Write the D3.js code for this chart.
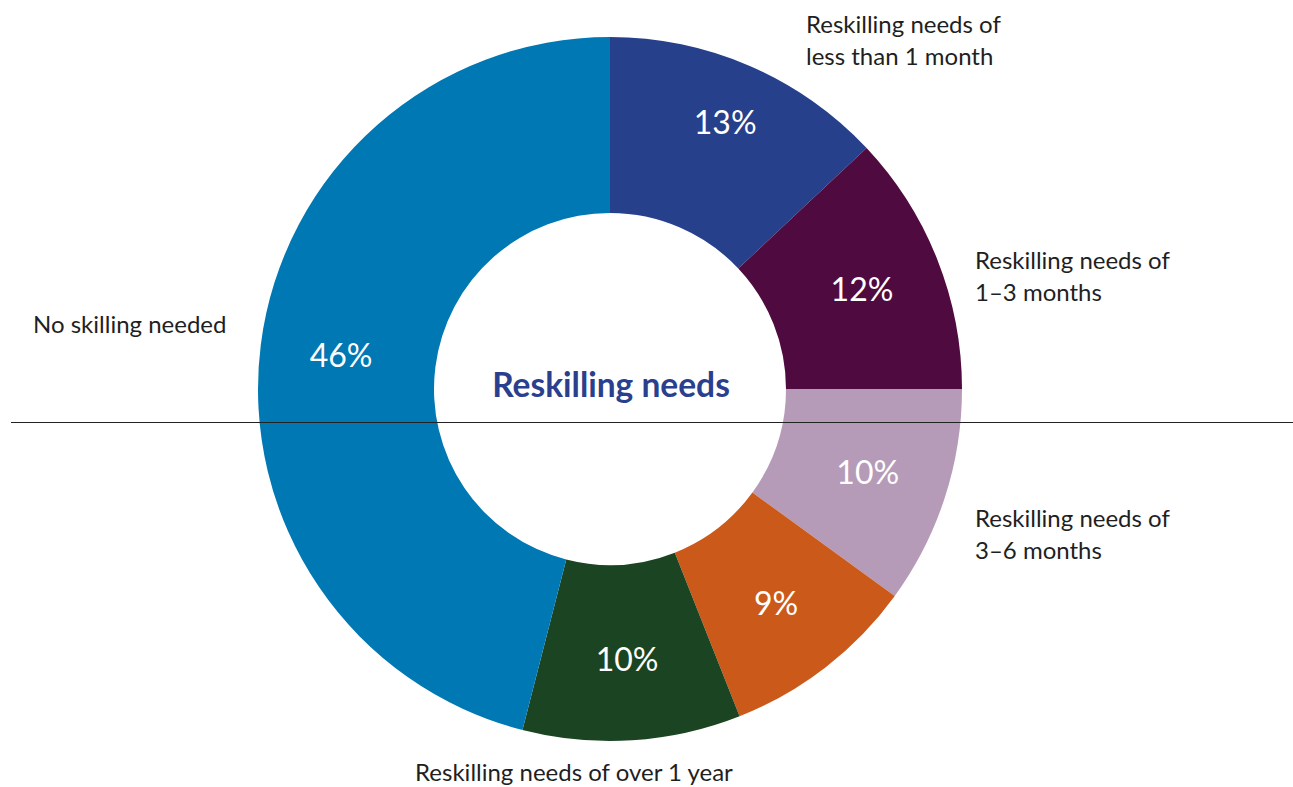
<!DOCTYPE html>
<html>
<head>
<meta charset="utf-8">
<script src="https://cdn.jsdelivr.net/npm/d3@7/dist/d3.min.js"></script>
<style>
  html, body { margin: 0; padding: 0; background: #fff; }
  svg { display: block; }
  text { font-family: Lato, "Open Sans", sans-serif; }
</style>
</head>
<body>
<svg id="chart" width="1293" height="787"></svg>
<script>
// Share of workers by reskilling need (percent), clockwise from 12 o'clock
const categories = [
  "Reskilling needs of less than 1 month",
  "Reskilling needs of 1–3 months",
  "Reskilling needs of 3–6 months",
  "Reskilling needs of 6–12 months",
  "Reskilling needs of over 1 year",
  "No skilling needed"
];
const values = [13, 12, 10, 9, 10, 46];
const colors = ["#27408B", "#4F0A3F", "#B59BB8", "#CB5A1A", "#1B4522", "#0078B3"];
const centerTitle = "Reskilling needs";

const svg = d3.select("#chart");
const cx = 610, cy = 389;
const outerR = 352, innerR = 176;

const pie = d3.pie().sort(null).value(d => d)
  .startAngle(0).endAngle(2 * Math.PI);
const arcs = pie(values);
const arc = d3.arc().innerRadius(innerR).outerRadius(outerR);

const g = svg.append("g").attr("transform", `translate(${cx},${cy})`);

g.selectAll("path.slice")
  .data(arcs)
  .join("path")
  .attr("class", "slice")
  .attr("d", arc)
  .attr("fill", (d, i) => colors[i]);

// Percentage labels inside each ring segment
g.selectAll("text.pct")
  .data(arcs)
  .join("text")
  .attr("class", "pct")
  .attr("transform", (d, i) => {
    const r = i === 0 ? 290 : 271;
    const c = d3.arc().innerRadius(r).outerRadius(r).centroid(d);
    return `translate(${c[0]},${c[1]})`;
  })
  .attr("text-anchor", "middle")
  .attr("dy", "0.36em")
  .attr("fill", "#fff")
  .style("font-size", "32px")
  .text(d => d.data + "%");

// Centre title
svg.append("text")
  .attr("x", cx + 1).attr("y", 397)
  .attr("text-anchor", "middle")
  .attr("fill", "#2A3F8D")
  .style("font-size", "33.5px")
  .style("font-weight", "bold")
  .text(centerTitle);

// Outside category labels
const outside = [
  { lines: ["Reskilling needs of", "less than 1 month"], x: 806, y: 33, anchor: "start" },
  { lines: ["Reskilling needs of", "1–3 months"], x: 975, y: 269, anchor: "start" },
  { lines: ["Reskilling needs of", "3–6 months"], x: 975, y: 527, anchor: "start" },
  { lines: ["Reskilling needs of over 1 year"], x: 574, y: 781, anchor: "middle" },
  { lines: ["No skilling needed"], x: 33, y: 333, anchor: "start" }
];
outside.forEach(l => {
  const t = svg.append("text")
    .attr("x", l.x).attr("y", l.y)
    .attr("text-anchor", l.anchor)
    .attr("fill", "#1f1f1f")
    .style("font-size", "24px");
  l.lines.forEach((s, k) => {
    t.append("tspan").attr("x", l.x).attr("y", l.y + k * 32).text(s);
  });
});

// Horizontal rule across the figure
svg.append("line")
  .attr("x1", 11).attr("x2", 1293)
  .attr("y1", 422.5).attr("y2", 422.5)
  .attr("stroke", "#222")
  .attr("stroke-width", 1.2);
</script>
</body>
</html>
